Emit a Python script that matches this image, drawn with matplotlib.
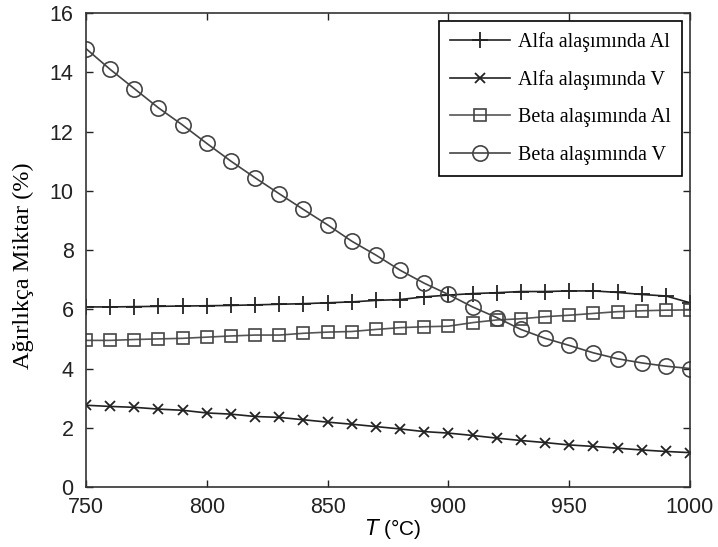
import numpy as np
import matplotlib.pyplot as plt

# Temperature (degC)
temp = [750, 760, 770, 780, 790, 800, 810, 820, 830, 840, 850, 860, 870,
        880, 890, 900, 910, 920, 930, 940, 950, 960, 970, 980, 990, 1000]

alfa_al = [6.08, 6.08, 6.09, 6.10, 6.11, 6.12, 6.13, 6.15, 6.17, 6.19, 6.22, 6.25, 6.30,
           6.33, 6.42, 6.48, 6.53, 6.56, 6.60, 6.60, 6.62, 6.62, 6.57, 6.50, 6.45, 6.22]
alfa_v = [2.76, 2.72, 2.69, 2.63, 2.59, 2.50, 2.46, 2.38, 2.35, 2.27, 2.19, 2.12, 2.04,
          1.96, 1.87, 1.82, 1.74, 1.65, 1.57, 1.50, 1.42, 1.37, 1.31, 1.25, 1.20, 1.16]
beta_al = [4.95, 4.95, 4.98, 5.00, 5.02, 5.06, 5.10, 5.13, 5.13, 5.19, 5.23, 5.25, 5.32,
           5.38, 5.41, 5.43, 5.55, 5.64, 5.68, 5.75, 5.80, 5.86, 5.92, 5.95, 5.97, 5.98]
beta_v = [14.8, 14.1, 13.45, 12.8, 12.22, 11.6, 11.0, 10.44, 9.9, 9.37, 8.85, 8.3, 7.83,
          7.32, 6.88, 6.5, 6.08, 5.72, 5.32, 5.02, 4.78, 4.53, 4.33, 4.19, 4.08, 4.0]

fig = plt.figure(figsize=(7.18, 5.47), dpi=100)
ax = fig.add_axes([0.1198, 0.1097, 0.8412, 0.8663])

ax.plot(temp, alfa_al, color='#222222', lw=1.2, marker='+', ms=12, mew=1.3,
        label='Alfa alaşımında Al')
ax.plot(temp, alfa_v, color='#222222', lw=1.2, marker='x', ms=7, mew=1.3,
        label='Alfa alaşımında V')
ax.plot(temp, beta_al, color='#555555', lw=1.2, marker='s', ms=9, mew=1.2,
        mfc='none', mec='#444444', label='Beta alaşımında Al')
ax.plot(temp, beta_v, color='#444444', lw=1.2, marker='o', ms=11, mew=1.2,
        mfc='none', mec='#444444', label='Beta alaşımında V')

ax.set_xlim(750, 1000)
ax.set_ylim(0, 16)
ax.set_xticks([750, 800, 850, 900, 950, 1000])
ax.set_yticks([0, 2, 4, 6, 8, 10, 12, 14, 16])
ax.tick_params(direction='in', top=True, right=True, length=5, width=1,
               labelsize=15.5, colors='#222222')
ax.tick_params(axis='y', pad=9)
ax.tick_params(axis='x', pad=7)
for lab in ax.get_xticklabels() + ax.get_yticklabels():
    lab.set_family('Liberation Sans')
for s in ax.spines.values():
    s.set_linewidth(1.2)
    s.set_color('#333333')

ax.set_xlabel(r'$\mathit{T}$ (°C)', fontsize=15, family='Liberation Sans', va='center')
ax.xaxis.set_label_coords(0.509, -0.089)
ax.set_ylabel('Ağırlıkça Miktar (%)', fontsize=17.5, family='Liberation Serif', va='center')
ax.yaxis.set_label_coords(-0.104, 0.466)

leg = ax.legend(loc='upper right', bbox_to_anchor=(0.987, 0.983), fancybox=False,
                edgecolor='black', framealpha=1, handlelength=3.0, labelspacing=0.9,
                borderpad=0.55, handletextpad=0.4, borderaxespad=0,
                prop={'family': 'Liberation Serif', 'size': 14.5})
leg.get_frame().set_linewidth(1.2)

fig.savefig('out.png', dpi=100)
plt.close(fig)
